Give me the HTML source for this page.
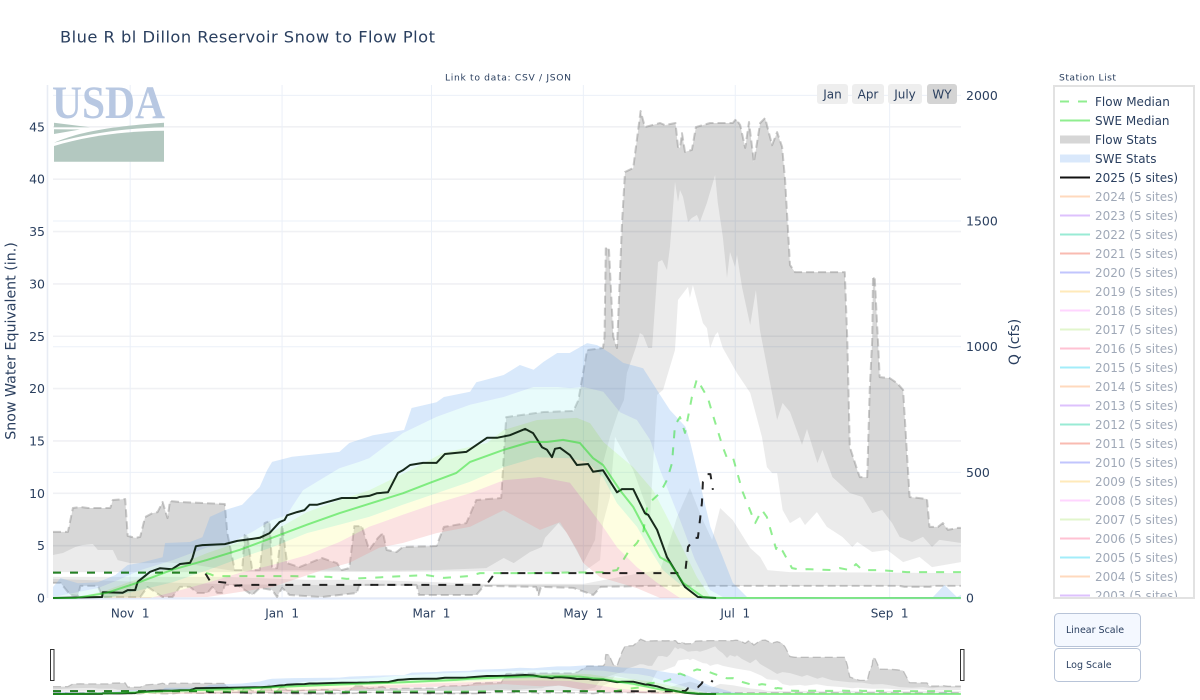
<!DOCTYPE html>
<html lang="en">
<head>
<meta charset="utf-8">
<title>Blue R bl Dillon Reservoir Snow to Flow Plot</title>
<style>
html,body{margin:0;padding:0;background:#fff;width:1200px;height:700px;overflow:hidden}
svg{display:block}
text{font-family:"DejaVu Sans","Liberation Sans",sans-serif;fill:#2a3f5f;white-space:pre}
.btn{cursor:pointer}
</style>
</head>
<body>
<svg id="chart" xmlns="http://www.w3.org/2000/svg" width="1200" height="700" viewBox="0 0 1200 700">
  <defs>
    <clipPath id="legend-clip"><rect x="1056" y="87" width="136" height="510"/></clipPath>
  </defs>
  <text x="60" y="42.5" font-size="16.3" textLength="375" lengthAdjust="spacing">Blue R bl Dillon Reservoir Snow to Flow Plot</text>
  <text x="445" y="80.5" font-size="9.2" textLength="126" class="btn">Link to data: CSV / JSON</text>
  <text x="1059" y="80.5" font-size="9.2" textLength="57">Station List</text>
  <g id="grid"></g>
  <g id="logo">
    <text x="52" y="118" textLength="113" lengthAdjust="spacingAndGlyphs" style="font-family:'Liberation Serif',serif;fill:#b8c8e2;font-weight:bold" font-size="47">USDA</text>
    <path fill="#b3c8c0" d="M54,146C90,135 130,131 164,130.7V161.7H54Z"/>
    <path fill="#b3c8c0" d="M54,122.7L90,127.3L54,127.3ZM54,129.3L80,129.5L54,134Z"/>
    <path fill="#b3c8c0" d="M164,122.7V127.3C130,128 95,132 54,142.7C75,134 100,127 164,122.7Z"/>
  </g>
  <g id="main-plot"></g>
  <g id="axes"></g>
  <g id="mini-plot"></g>
  <rect x="50.5" y="649.5" width="3.5" height="31" fill="#fff" stroke="#333" stroke-width="1"/>
  <rect x="960.5" y="649.5" width="3.5" height="31" fill="#fff" stroke="#333" stroke-width="1"/>
  <g>
    <g class="btn"><rect x="817" y="84" width="31" height="20" rx="3" fill="#eeeeee"/><text x="832.5" y="98.5" font-size="12" text-anchor="middle">Jan</text></g>
    <g class="btn"><rect x="852" y="84" width="32" height="20" rx="3" fill="#eeeeee"/><text x="868" y="98.5" font-size="12" text-anchor="middle">Apr</text></g>
    <g class="btn"><rect x="888" y="84" width="34" height="20" rx="3" fill="#eeeeee"/><text x="905" y="98.5" font-size="12" text-anchor="middle">July</text></g>
    <g class="btn"><rect x="927" y="84" width="30" height="20" rx="3" fill="#d4d4d4"/><text x="942" y="98.5" font-size="12" text-anchor="middle">WY</text></g>
  </g>
  <rect x="1054" y="86" width="140" height="512" fill="#fff" stroke="#e2e2e2" stroke-width="2"/>
  <g id="legend" clip-path="url(#legend-clip)"></g>
  <g class="btn"><rect x="1054.5" y="613.5" width="86" height="33" rx="4" fill="#f4f8ff" stroke="#b8c4d8"/><text x="1066" y="633" font-size="9.5">Linear Scale</text></g>
  <g class="btn"><rect x="1054.5" y="648.5" width="86" height="33" rx="4" fill="#fff" stroke="#b8c4d8"/><text x="1066" y="668" font-size="9.5">Log Scale</text></g>
</svg>
<script>
// --- axis ticks ---
const xTickDays = [31, 92, 152, 213, 274, 336];
const xTickLabels = ['Nov  1', 'Jan  1', 'Mar  1', 'May  1', 'Jul  1', 'Sep  1'];
const sweTicks = [0, 5, 10, 15, 20, 25, 30, 35, 40, 45];
const flowTicks = [0, 500, 1000, 1500, 2000];

// --- flow statistics (day of water year, cfs) ---
const flowMaxDay = [0,6,8,11,14,23,24,29,30,33,35,37,40,42,44,46,47,51,69,70,73,76,77,78,80,83,85,87,88,90,92,94,99,108,114,116,119,121,124,127,130.5,132.5,134,138,140.5,154,157,166,170,180,182,197,209,211,214.5,220.9,221.5,222,223.3,225,226.5,228.5,229.7,233,236,237.7,243.8,245.8,250,251,251.8,252.6,253.8,256.6,258.2,263.9,273,274.3,276,278,279.5,281.5,284,286,288.8,290.8,292.8,294,296,298,318,319,320,323,324,327,328,329,329.3,330,331.3,332,336,339,341.4,344,351,352,355.4,357.4,359.4,363.4,364.6];
const flowMaxCfs = [263,263,358,362,358,358,390,394,247,239,243,322,338,342,382,318,386,382,374,259,111,111,251,251,111,111,298,306,119,119,290,139,123,159,139,111,119,286,286,191,239,259,191,183,203,207,283,298,390,398,720,740,744,788,987,995,1039,1397,1385,1039,995,1492,1695,1711,1938,1874,1890,1882,1890,1795,1791,1850,1775,1783,1874,1890,1890,1906,1882,1791,1894,1735,1890,1910,1802,1854,1795,1663,1325,1297,1297,1027,601,509,481,481,828,1027,1277,1277,1027,879,875,855,828,402,394,283,283,298,271,279,279];
const flowP90Day = [0,4,9,12,16,18,24,26,31,40,44,55,73,99,127,154,174,181,185,191.6,196.4,197.6,203,206.4,213,217.7,219.7,220.9,223.7,226.9,229.3,230.5,234,235.7,237,239,240.6,243,244.6,246.6,247.8,249.8,251,251.8,253,255,256.6,258.6,259.8,262.6,265.9,267,269,270.7,271.9,273.9,274.7,276.7,280,282.3,283.9,288,290.8,293,296,300.8,302.8,307,309,313,320,325,329,333,337,340,345,349.4,353,356,364.6];
const flowP90Cfs = [171,179,203,211,215,191,191,151,139,139,143,135,107,111,107,111,119,159,139,183,203,239,298,259,139,231,470,537,641,736,788,895,995,1054,1046,995,995,1337,1345,1305,1397,1655,1576,1623,1596,1496,1512,1524,1496,1572,1683,1572,1437,1273,1377,1317,1365,1237,1086,1225,1066,855,708,776,740,609,672,537,589,481,418,402,338,350,298,243,223,243,203,231,219];
const flowP70Day = [0,73,99,127,174,212.9,219.7,220.9,223.7,225.7,233,239.8,242.6,245,248.6,249.8,251,255,255.8,257,261,262.6,263.9,265.9,267,269,274.7,280,284.7,286.7,288.8,290.8,293,296,300,302,306.8,310.8,317,321,323,329,335,341.4,348,353,364.6];
const flowP70Cfs = [103,103,105,103,107,103,151,298,402,641,509,322,808,828,947,987,1186,1238,1194,1245,1094,1074,995,1046,1058,995,895,816,641,521,497,497,350,298,322,290,342,283,243,203,223,183,191,143,163,123,143];
const flowP30Day = [0,70,102,127,174,213,235.7,243.8,247.8,250.6,255.8,260.6,264.7,267.9,273,280,284,287,296,364.6];
const flowP30Cfs = [84,84,72,72,56,56,99,111,231,322,438,318,231,358,310,199,163,111,103,99];
const flowP10Day = [0,30,73,127,165,213,240,364.6];
const flowP10Cfs = [76,66,54,50,52,52,52,50];
const flowMinDay = [0,3,7,10,11,18,20,35,38,44,48,51,55,58,62,64,66,68,69,74,80,83,88,90,92,95,108,115,122,123,146,147,170,173,194,195,196,209,217,220,240,340,342,352,354,364.6];
const flowMinCfs = [60,60,12,8,48,48,4,4,44,4,4,44,44,20,20,44,20,20,52,52,12,40,32,4,40,12,4,12,20,52,52,12,12,48,44,12,44,40,12,44,48,48,44,44,48,48];

// --- flow lines ---
const flowMedianDay = [0,61,63,65,86,96,111,118,127,140.5,150,157,167,171.5,191.6,221,226.5,231,234.5,237,238.6,239.8,243.8,246.6,248.6,249.8,251.8,253.8,256.6,258.6,263,265,269,270.7,273,277,282,284.7,286.7,290.4,291,293,296.8,300.8,302.8,313,316,320,322.5,325,332,343,364.6];
const flowMedianCfs = [101,101,95,87,87,87,84,76,80,87,91,80,87,99,99,103,111,183,219,259,362,382,418,470,537,688,720,657,800,871,796,728,601,557,561,422,298,350,322,195,211,187,119,111,115,111,119,111,135,111,111,103,103];
const flow2025Day = [0,61,63,70,72,78,100,120,145,174,177.5,191.6,210,250.6,254,255,257.8,259,260.6,261,262.6,264,265];
const flow2025Cfs = [101,101,68,60,48,52,52,52,52,52,99,99,99,99,111,203,239,239,378,462,493,493,430];

// --- SWE statistics (day of water year, inches) ---
const sweMaxDay = [0,3,10,18,25,30,35,44,45,55,60,63,69,76,79,83,86,88,96,115,119,128.5,141,144,154,157,167.5,170,181,187.5,193,197,202.5,207.5,214.5,218.5,223.7,229,237,242.6,247.8,254,256,264,269,273,278.7,300,343,353.4,358,363,364.6];
const sweMaxIn = [1.05,1.9,1.4,1.5,2.2,3.15,3.35,3.9,5.25,5.35,5.8,7.75,8.4,8.9,9.65,10.6,12.2,13,13.5,13.95,14.8,15.55,16.05,18.15,18.7,19.2,19.7,20.6,21.3,22.25,21.8,22.55,23.4,23.4,24.35,24.15,23.4,22.45,21.95,19.85,17.95,16.35,14.8,6.8,3.9,1.45,0.1,0,0.1,0.1,1.25,0.1,0.3];
const sweP90Day = [0,18,26,35,48,62,71,80,88,94,96,100.4,115,123,127,140.5,154,167.5,181,193,202.5,207.6,213,221,227.7,234.5,239.8,243.8,247.8,251.8,257.8,263.9,269,364.6];
const sweP90In = [0.1,0.95,1.7,2.65,3.6,4.85,5.25,6.3,7.45,7.9,8.7,10.3,12.4,13,13.35,15.75,17.3,18.45,19.2,20.15,20.15,20.05,20.15,19.7,17.75,17,15.1,12.2,9.85,7.45,3.65,0.75,0.1,0];
const sweP70Day = [0,9,21.7,35,48,62,75,88,102,115,127,143.4,156.6,174.3,181,194.4,210.4,215.7,221,233,241,246.6,251.8,258.6,264,364.6];
const sweP70In = [0,0,0.75,1.9,2.95,4.3,5.35,6.3,8.2,9.35,10.3,12.2,13.85,14.8,16.05,17,17.2,16.7,14.9,12.5,10.3,7.75,5.25,2,0.1,0];
const sweMedianDay = [0,9,21.7,35,48,62,75,88,102,115,127,140.5,151.4,162,167.5,181,191.6,198.4,204.8,211.6,216.9,220.9,227.7,233,238.6,243.8,247.8,253,261,266.3,364.6];
const sweMedianIn = [0,0,0.5,1.55,2.7,3.65,4.6,5.75,7,8.1,9,10,11,11.95,13,14.15,14.9,14.9,15.1,14.8,13.35,12.7,10.3,8.7,6.2,3.9,3.35,1.45,0.1,0,0];
const sweP30Day = [0,21.7,35,48,62,75,88,102,115,127,140.5,154,167.5,181,194.4,207.6,214.5,220.9,226.5,234.5,239.8,245,254.6,259.8,364.6];
const sweP30In = [0,0,0.75,1.5,2.65,3.8,4.85,6.2,7,7.75,8.9,10,11.1,12.5,13.45,13.35,13,11.55,9.05,6.8,4.6,2.65,0.75,0,0];
const sweP10Day = [0,39,48,62,75,88,102,115,127,140.5,154,167.5,181,195.6,207.6,212.9,220.9,226.5,234.5,242.6,251.8,364.6];
const sweP10In = [0,0,0.55,1.45,2.4,3.15,4.1,5.35,6.8,7.95,9.05,10,11.25,11.55,11,9.35,6.8,4.85,2.95,1.45,0,0];
const sweMinDay = [0,62,88,108,119,131,140.5,154,167.5,181,195.6,203.6,210.4,212.9,219.7,234.5,243.8,364.6];
const sweMinIn = [0,0.1,1.05,2.65,3.35,4.8,5.25,6.2,6.8,8.4,6.5,7.25,4.6,3.35,2,0.95,0,0];
const swe2025Day = [0,19.7,20,28,30,33,34,39,43,47.8,51,55,56,57.4,60,69,74,83,87,91,93,94,98,101,103,106,116,122,123,127,130,134.5,138.5,140.5,143.4,148.6,154,157.4,166,174.3,178.3,183.5,189.6,192.8,196.4,198.4,200.4,201.6,203.6,207.6,210.4,214.9,216.9,220.9,226.5,228.5,233,237.7,239,242.6,246.6,249.8,253.8,259,266.3];
const swe2025In = [0,0.1,0.55,0.5,0.75,0.75,1.55,2.5,2.85,2.75,3.25,3.35,3.8,4.95,5.05,5.15,5.45,5.75,6.2,7.25,7.45,7.9,8.2,8.4,8.9,8.9,9.55,9.55,9.65,9.75,10,10.1,11.95,12.2,12.7,12.9,12.9,13.75,13.95,15.3,15.3,15.55,16.15,15.75,14.4,14.15,13.45,14.25,14.35,13.65,12.7,12.8,12.05,12.2,10.1,10.4,10.4,8.1,7.95,6.5,3.9,2.65,1.05,0.1,0];

// --- legend ---
const legendYears = [2024,2023,2022,2021,2020,2019,2018,2017,2016,2015,2014,2013,2012,2011,2010,2009,2008,2007,2006,2005,2004,2003];
const yearPalette = ['#FFA15A','#AB63FA','#00CC96','#EF553B','#636EFA','#FECB52','#FF97FF','#B6E880','#FF6692','#19D3F3'];

const NS = 'http://www.w3.org/2000/svg';
const xScale = d => 53 + d * 2.49;
const sweScaleMain = v => 598 - v * 10.47;
const flowScaleMain = q => 598 - q * 0.2513;
const sweScaleMini = v => 694 - v * 1.178;
const flowScaleMini = q => 694 - q * 0.02827;

function addNode(parent, tag, attrs, name, interactable) {
  const el = document.createElementNS(NS, tag);
  for (const k in attrs) el.setAttribute(k, attrs[k]);
  
  
  parent.appendChild(el);
  return el;
}
function linePts(days, vals, yS) {
  return days.map((d, i) => xScale(d).toFixed(1) + ',' + yS(vals[i]).toFixed(1)).join(' ');
}
function band(parent, name, topD, topV, botD, botV, yS, fill) {
  const pts = linePts(topD, topV, yS) + ' ' + linePts(botD.slice().reverse(), botV.slice().reverse(), yS);
  addNode(parent, 'polygon', {points: pts, fill: fill, stroke: 'none'}, name, false);
}
function polyline(parent, name, days, vals, yS, stroke, width, dash, opacity) {
  const a = {points: linePts(days, vals, yS), fill: 'none', stroke: stroke, 'stroke-width': width, 'stroke-linejoin': 'round'};
  if (dash) a['stroke-dasharray'] = dash;
  if (opacity) a['stroke-opacity'] = opacity;
  addNode(parent, 'polyline', a, name, false);
}
function drawSeries(g, yS, yQ, mini) {
  const DARK = 'rgba(0,0,0,0.155)', LIGHT = 'rgba(0,0,0,0.08)';
  band(g, 'flow-band-max-p90', flowMaxDay, flowMaxCfs, flowP90Day, flowP90Cfs, yQ, DARK);
  band(g, 'flow-band-p90-p70', flowP90Day, flowP90Cfs, flowP70Day, flowP70Cfs, yQ, LIGHT);
  band(g, 'flow-band-p30-p10', flowP30Day, flowP30Cfs, flowP10Day, flowP10Cfs, yQ, LIGHT);
  band(g, 'flow-band-p10-min', flowP10Day, flowP10Cfs, flowMinDay, flowMinCfs, yQ, DARK);
  const dw = mini ? 1.3 : 2;
  polyline(g, 'flow-max-line', flowMaxDay, flowMaxCfs, yQ, 'rgba(130,130,130,0.42)', dw, '8,4');
  polyline(g, 'flow-min-line', flowMinDay, flowMinCfs, yQ, 'rgba(130,130,130,0.42)', dw, '8,4');
  band(g, 'swe-band-max-p90', sweMaxDay, sweMaxIn, sweP90Day, sweP90In, yS, 'rgba(120,175,240,0.28)');
  band(g, 'swe-band-p90-p70', sweP90Day, sweP90In, sweP70Day, sweP70In, yS, 'rgba(172,242,242,0.28)');
  band(g, 'swe-band-p70-p30', sweP70Day, sweP70In, sweP30Day, sweP30In, yS, 'rgba(130,235,130,0.27)');
  band(g, 'swe-band-p30-p10', sweP30Day, sweP30In, sweP10Day, sweP10In, yS, 'rgba(250,250,140,0.26)');
  band(g, 'swe-band-p10-min', sweP10Day, sweP10In, sweMinDay, sweMinIn, yS, 'rgba(240,140,140,0.25)');
  polyline(g, 'flow-2025-line', flow2025Day, flow2025Cfs, yQ, '#000', 2, '8,9', 0.85);
  polyline(g, 'flow-median-line', flowMedianDay, flowMedianCfs, yQ, '#21dd21', 2, '8,9', 0.5);
  polyline(g, 'swe-2025-line', swe2025Day, swe2025In, yS, '#0c1f10', 2, null, 0.95);
  polyline(g, 'swe-median-line', sweMedianDay, sweMedianIn, yS, '#21dd21', 2, null, 0.5);
}

const grid = document.getElementById('grid');
const axes = document.getElementById('axes');
sweTicks.forEach(v => {
  addNode(grid, 'line', {x1: 53, x2: 961, y1: sweScaleMain(v), y2: sweScaleMain(v), stroke: '#f0f1f4', 'stroke-width': 1.6}, 'swe-gridline', false);
  const t = addNode(axes, 'text', {x: 45, y: sweScaleMain(v) + 4.5, 'font-size': 12.5, 'text-anchor': 'end'}, 'swe-tick-label', false);
  t.textContent = v;
});
flowTicks.forEach(q => {
  addNode(grid, 'line', {x1: 53, x2: 961, y1: flowScaleMain(q), y2: flowScaleMain(q), stroke: '#ebf0f8', 'stroke-width': 1}, 'flow-gridline', false);
  const t = addNode(axes, 'text', {x: 966, y: flowScaleMain(q) + 4.5, 'font-size': 12.5}, 'flow-tick-label', false);
  t.textContent = q;
});
xTickDays.forEach((d, i) => {
  addNode(grid, 'line', {x1: xScale(d), x2: xScale(d), y1: 85, y2: 598, stroke: '#ebf0f8', 'stroke-width': 1}, 'date-gridline', false);
  const t = addNode(axes, 'text', {x: xScale(d), y: 617.5, 'font-size': 12, 'text-anchor': 'middle'}, 'date-tick-label', false);
  t.textContent = xTickLabels[i];
});
addNode(axes, 'line', {x1: 47.5, x2: 47.5, y1: 85, y2: 598, stroke: '#e8ecf4', 'stroke-width': 1.6}, 'swe-axis-line', false);
addNode(grid, 'line', {x1: 53, x2: 961, y1: 598.5, y2: 598.5, stroke: '#e2e9f8', 'stroke-width': 2}, 'date-axis-line', false);
const leftTitle = addNode(axes, 'text', {x: 0, y: 0, 'font-size': 14.2, 'text-anchor': 'middle', transform: 'translate(15.5,341) rotate(-90)'}, 'y-axis-title-swe', false);
leftTitle.textContent = 'Snow Water Equivalent (in.)';
const rightTitle = addNode(axes, 'text', {x: 0, y: 0, 'font-size': 14, 'text-anchor': 'middle', transform: 'translate(1019,342) rotate(-90)'}, 'y-axis-title-flow', false);
rightTitle.textContent = 'Q (cfs)';

drawSeries(document.getElementById('main-plot'), sweScaleMain, flowScaleMain, false);
drawSeries(document.getElementById('mini-plot'), sweScaleMini, flowScaleMini, true);

const legend = document.getElementById('legend');
const legendRowY = i => 101.5 + i * 19;
function legendLabel(i, label, muted) {
  const t = addNode(legend, 'text', {x: 1095, y: legendRowY(i) + 4.3, 'font-size': 12, 'fill-opacity': muted ? 0.45 : 1, style: 'cursor:pointer'}, 'legend-label', true);
  t.textContent = label;
}
addNode(legend, 'line', {x1: 1060, x2: 1090, y1: legendRowY(0), y2: legendRowY(0), stroke: '#90ee90', 'stroke-width': 2, 'stroke-dasharray': '9,9'}, 'legend-swatch-flow-median', false);
legendLabel(0, 'Flow Median', false);
addNode(legend, 'line', {x1: 1060, x2: 1090, y1: legendRowY(1), y2: legendRowY(1), stroke: '#90ee90', 'stroke-width': 2}, 'legend-swatch-swe-median', false);
legendLabel(1, 'SWE Median', false);
addNode(legend, 'rect', {x: 1060, y: legendRowY(2) - 4, width: 30, height: 8, fill: '#d6d6d6'}, 'legend-swatch-flow-stats', false);
legendLabel(2, 'Flow Stats', false);
addNode(legend, 'rect', {x: 1060, y: legendRowY(3) - 4, width: 30, height: 8, fill: '#d9e8fb'}, 'legend-swatch-swe-stats', false);
legendLabel(3, 'SWE Stats', false);
addNode(legend, 'line', {x1: 1060, x2: 1090, y1: legendRowY(4), y2: legendRowY(4), stroke: '#111', 'stroke-width': 2}, 'legend-swatch-2025', false);
legendLabel(4, '2025 (5 sites)', false);
legendYears.forEach((yr, i) => {
  addNode(legend, 'line', {x1: 1060, x2: 1090, y1: legendRowY(i + 5), y2: legendRowY(i + 5), stroke: yearPalette[i % yearPalette.length], 'stroke-width': 2, 'stroke-opacity': 0.4}, 'legend-swatch-year', false);
  legendLabel(i + 5, yr + ' (5 sites)', true);
});
</script>
</body>
</html>
